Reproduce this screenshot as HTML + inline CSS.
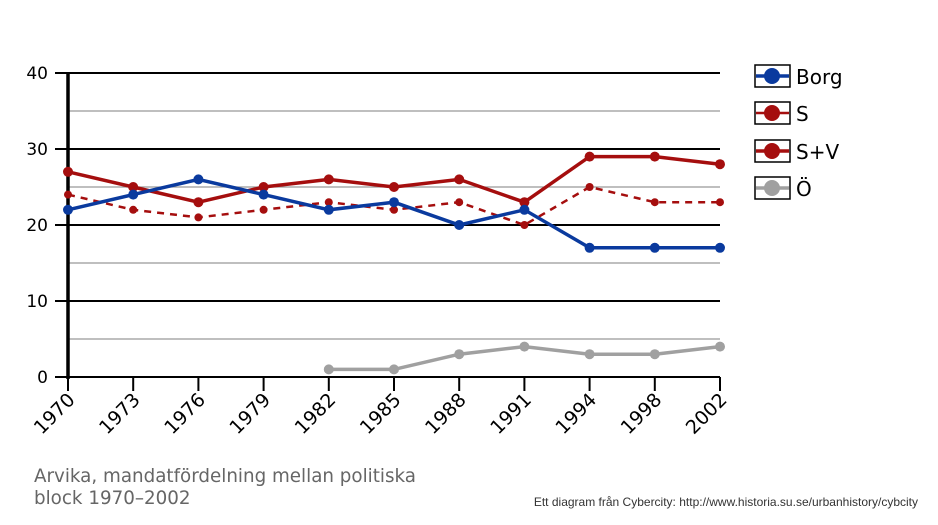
<!DOCTYPE html>
<html><head><meta charset="utf-8"><style>
body{margin:0;background:#fff;width:938px;height:521px;overflow:hidden;font-family:"DejaVu Sans","Liberation Sans",sans-serif}
</style></head><body>
<svg id="chart" width="938" height="521" xmlns="http://www.w3.org/2000/svg" font-family="DejaVu Sans, Liberation Sans, sans-serif"></svg>
<script>
const categories=["1970","1973","1976","1979","1982","1985","1988","1991","1994","1998","2002"];
const borg=[22,24,26,24,22,23,20,22,17,17,17];
const s=[24,22,21,22,23,22,23,20,25,23,23];
const sv=[27,25,23,25,26,25,26,23,29,29,28];
const o=[null,null,null,null,1,1,3,4,3,3,4];
const yTicks=[0,10,20,30,40];
const yMinor=[5,15,25,35];
const NS="http://www.w3.org/2000/svg";
const svg=document.getElementById('chart');
const x0=68,x1=720,yb=377,yt=73;
function xs(i){return x0+i*(x1-x0)/(categories.length-1);}
function ys(v){return yb-(v/40)*(yb-yt);}
function mk(tag,attrs,parent){const e=document.createElementNS(NS,tag);for(const k in attrs)e.setAttribute(k,attrs[k]);(parent||svg).appendChild(e);return e;}
const grid=mk('g',{});


yMinor.forEach(v=>{mk('line',{x1:x0,x2:x1,y1:ys(v),y2:ys(v),stroke:'#999','stroke-width':1.2},grid);});
yTicks.forEach(v=>{
 mk('line',{x1:55,x2:x1,y1:ys(v),y2:ys(v),stroke:'#000','stroke-width':2},grid);
 const t=mk('text',{x:48,y:ys(v)+6,'text-anchor':'end','font-size':17,fill:'#000'});
 t.textContent=v;
 
 
});
const ya=mk('line',{x1:x0,x2:x0,y1:yt,y2:yb+2,stroke:'#000','stroke-width':3.5});


categories.forEach((c,i)=>{
 mk('line',{x1:xs(i),x2:xs(i),y1:yb,y2:yb+14,stroke:'#000','stroke-width':2});
 const t=mk('text',{x:0,y:0,'text-anchor':'end','font-size':19,fill:'#000',transform:`translate(${xs(i)+8},${yb+24}) rotate(-45)`});
 t.textContent=c;
 
 
});
function series(data,color,width,dash,r,name){
 const g=mk('g',{});
 
 
 let d='';let start=true;
 data.forEach((v,i)=>{if(v==null){start=true;return;}d+=(start?'M':'L')+xs(i)+' '+ys(v)+' ';start=false;});
 const p=mk('path',{d:d,fill:'none',stroke:color,'stroke-width':width},g);
 if(dash)p.setAttribute('stroke-dasharray',dash);
 data.forEach((v,i)=>{if(v==null)return;const c=mk('circle',{cx:xs(i),cy:ys(v),r:r,fill:color},g);
  
  });
}
series(o,'#a0a0a0',3.5,null,5,'series-o');
series(s,'#a50e0e',2.5,'7,6',4,'series-s');
series(sv,'#a50e0e',3.5,null,5,'series-sv');
series(borg,'#0a3a9e',3.5,null,5,'series-borg');
const leg=[["Borg","#0a3a9e",76],["S","#a50e0e",113],["S+V","#a50e0e",151],["Ö","#a0a0a0",188]];
leg.forEach(([n,c,y],i)=>{
 const g=mk('g',{});
 
 
 mk('rect',{x:755,y:y-11,width:35,height:22,fill:'#fff',stroke:'#000','stroke-width':1.5},g);
 mk('line',{x1:756,x2:789,y1:y,y2:y,stroke:c,'stroke-width':i==1?2.5:3.5},g);
 mk('circle',{cx:772,cy:y,r:8,fill:c},g);
 const t=mk('text',{x:796,y:y+8,'font-size':20,fill:'#000'},g);t.textContent=n;
});
const t1=mk('text',{x:34,y:482,'font-size':18.3,fill:'#666'});t1.textContent='Arvika, mandatfördelning mellan politiska';


const t2=mk('text',{x:34,y:504,'font-size':18.3,fill:'#666'});t2.textContent='block 1970–2002';


const cr=mk('text',{x:918,y:506,'text-anchor':'end','font-size':12,fill:'#333','font-family':'Liberation Sans, sans-serif'});
cr.textContent='Ett diagram från Cybercity: http://www.historia.su.se/urbanhistory/cybcity';


</script>
</body></html>
